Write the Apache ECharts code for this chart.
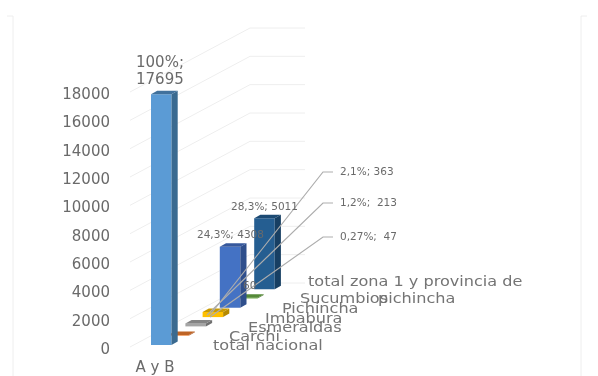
<!DOCTYPE html>
<html><head><meta charset="utf-8">
<style>html,body{margin:0;padding:0;background:#fff}#c{width:598px;height:376px;filter:blur(0.5px)}</style>
<script src="https://cdn.jsdelivr.net/npm/echarts@6/dist/echarts.min.js"></script>
</head><body><div id="c"></div>
<script>
// Data
const xCategories = ['A y B'];
const depthNames = ['total nacional','Carchi','Esmeraldas','Imbabura','Pichincha','Sucumbios','total zona 1 y provincia de\npichincha'];
const depthValues = [17695,47,213,363,4308,60,5011];
const percentLabels = ['100%;\n17695','0,27%;  47','1,2%;  213','2,1%; 363','24,3%; 4308','60','28,3%; 5011'];
const yTicks = [0,2000,4000,6000,8000,10000,12000,14000,16000,18000];

// Drawing constants (not data)
const STEP=[17.2,-9.3], BAR_W=20.5, SIDE=[6.2,-3.5], ORIGIN_DX=-4, ORIGIN_DY=-5;
const FRONT=['#5B9BD5','#ED7D31','#A5A5A5','#FFC000','#4472C4','#70AD47','#255E91'];
const SIDEC=['#3A6A90','#A85520','#707070','#B58900','#2F4F8C','#4C7A30','#173F63'];
const TOPC=['#41719C','#BE6426','#848484','#C99A00','#36589C','#558A38','#1C4A73'];
const LABEL_POS=[[136,55],[340,237],[340,203],[340,172],[197,235],[243,286],[231,207]];
const LEADER=[null,[[210,317],[323,237],[333,237]],[[207,315],[323,203],[333,203]],[[210,315],[323,172],[333,172]],null,null,null];
const NAME_POS=[[213,346],[229,337],[248,328],[265,319],[282,309],[300,299],[308,282]];
const NAME_STRETCH=1.15, WRAP_X=378, WRAP_Y=299;

function barItem(params,api){
  const d=api.value(0), v=api.value(1);
  const base=api.coord([0,0]), top=api.coord([0,v]);
  const x=base[0]+ORIGIN_DX+d*STEP[0], y0=base[1]+ORIGIN_DY+d*STEP[1], y1=top[1]+ORIGIN_DY+d*STEP[1];
  const x2=x+BAR_W, sx=SIDE[0], sy=SIDE[1];
  return {type:'group',children:[
    {type:'rect',shape:{x:x,y:y1,width:BAR_W,height:y0-y1},style:{fill:FRONT[d]}},
    {type:'polygon',shape:{points:[[x2,y1],[x2+sx,y1+sy],[x2+sx,y0+sy],[x2,y0]]},style:{fill:SIDEC[d]}},
    {type:'polygon',shape:{points:[[x,y1],[x+sx,y1+sy],[x2+sx,y1+sy],[x2,y1]]},style:{fill:TOPC[d]}}
  ]};
}
function wallItem(params,api){
  const p=api.coord([0,api.value(0)]);
  const x0=130,x1=250,x2=305,dy=-67;
  return {type:'polyline',shape:{points:[[x0,p[1]-3],[x1,p[1]+dy],[x2,p[1]+dy]]},style:{stroke:'#eeeeee',lineWidth:1,fill:'none'},silent:true};
}
function labelItem(params,api){
  const d=api.value(0), pos=LABEL_POS[d], big=d===0;
  const ch=[{type:'text',x:pos[0],y:pos[1],style:{text:percentLabels[d],fill:'#6a6a6a',font:(big?'15px':'10.5px')+' "DejaVu Sans"',lineHeight:big?17:12,textVerticalAlign:big?'top':'middle'}}];
  if(LEADER[d]) ch.unshift({type:'polyline',shape:{points:LEADER[d]},style:{stroke:'#adadad',lineWidth:1.2,fill:'none'}});
  return {type:'group',children:ch};
}
function nameItem(params,api){
  const d=api.value(0), pos=NAME_POS[d], lines=depthNames[d].split('\n');
  const mk=(t,x,y)=>({type:'text',x:x,y:y,scaleX:NAME_STRETCH,style:{text:t,fill:'#747474',font:'14px "DejaVu Sans"',textVerticalAlign:'middle'}});
  const ch=[mk(lines[0],pos[0],pos[1])];
  if(lines[1]) ch.push(mk(lines[1],WRAP_X,WRAP_Y));
  return {type:'group',children:ch};
}
const idx=depthNames.map((_,i)=>i);
const chart=echarts.init(document.getElementById('c'),null,{renderer:'canvas'});
chart.setOption({
  animation:false,
  grid:{left:135,right:423,top:95,bottom:25},
  graphic:[
    {type:'polyline',shape:{points:[[7,16],[13,16],[13,376]]},style:{stroke:'#eeeeee',fill:'none'}},
    {type:'polyline',shape:{points:[[587,16],[581,16],[581,376]]},style:{stroke:'#eeeeee',fill:'none'}}
  ],
  xAxis:{type:'category',data:xCategories,axisLine:{show:false},axisTick:{show:false},axisLabel:{color:'#6a6a6a',fontFamily:'DejaVu Sans',fontSize:15,margin:11}},
  yAxis:{type:'value',min:0,max:18000,interval:2000,axisLine:{show:false},axisTick:{show:false},splitLine:{show:false},
    axisLabel:{color:'#6a6a6a',fontFamily:'DejaVu Sans',fontSize:15,margin:25,formatter:v=>String(v)}},
  series:[
    {type:'custom',z:1,silent:true,clip:false,renderItem:wallItem,encode:{y:0},data:yTicks.map(v=>[v])},
    {type:'custom',z:2,silent:true,clip:false,renderItem:barItem,encode:{x:0,y:1},data:idx.map(i=>[i,depthValues[i]]).reverse()},
    {type:'custom',z:3,silent:true,clip:false,renderItem:labelItem,data:idx.map(i=>[i])},
    {type:'custom',z:4,silent:true,clip:false,renderItem:nameItem,data:idx.map(i=>[i])}
  ]
});
</script></body></html>
